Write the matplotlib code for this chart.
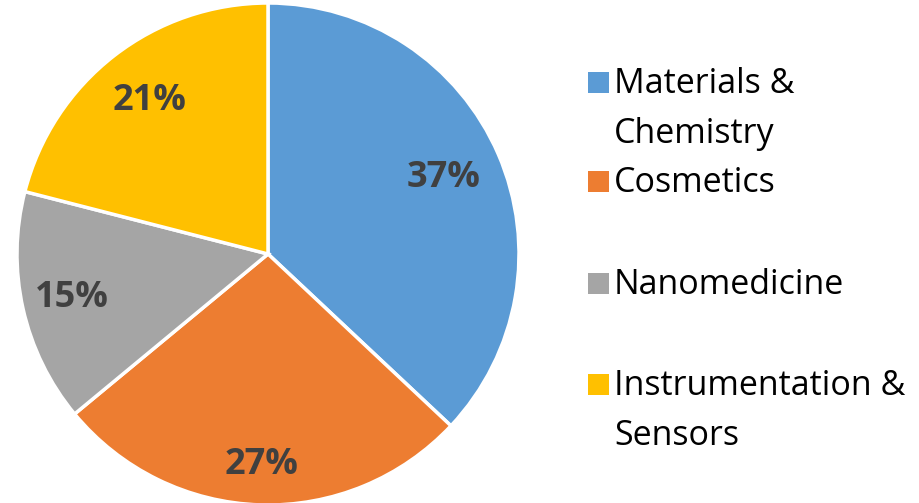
import numpy as np
import matplotlib
matplotlib.use("Agg")
import matplotlib.pyplot as plt
from matplotlib.patches import Rectangle

categories = ["Materials &\nChemistry", "Cosmetics", "Nanomedicine", "Instrumentation &\nSensors"]
values = [37, 27, 15, 21]
colors = ["#5B9BD5", "#ED7D31", "#A5A5A5", "#FFC000"]

W, H = 919, 503
fig = plt.figure(figsize=(W / 100, H / 100), dpi=100)
cx, cy, r = 268, 254, 251
ax = fig.add_axes([(cx - r) / W, 1 - (cy + r) / H, 2 * r / W, 2 * r / H])
wedges, texts, autotexts = ax.pie(
    values, colors=colors, startangle=90, counterclock=False,
    autopct="%1.0f%%", pctdistance=0.76,
    wedgeprops=dict(edgecolor="white", linewidth=2.5),
    textprops=dict(fontsize=26, fontweight="bold", color="#404040", family="Open Sans"),
)
ax.set_xlim(-1, 1)
ax.set_ylim(-1, 1)
ax.set_aspect("equal")

dists = [0.76, 0.84, 0.80, 0.77]
for w, t, d in zip(wedges, autotexts, dists):
    ang = np.deg2rad((w.theta1 + w.theta2) / 2)
    t.set_position((d * np.cos(ang), d * np.sin(ang)))
    t.set_ha("center")
    t.set_va("center")

# Legend drawn manually
baselines = [93, 192, 294, 395]
line_gap = 50
for lab, col, b in zip(categories, colors, baselines):
    fig.patches.append(Rectangle((588 / W, 1 - b / H), 21 / W, 21 / H,
                                 transform=fig.transFigure, facecolor=col,
                                 edgecolor="none"))
    for i, line in enumerate(lab.split("\n")):
        fig.text(614 / W, 1 - (b + i * line_gap) / H, line, fontsize=24.5,
                 family="Open Sans", color="black", va="baseline", ha="left")

fig.savefig("out.png", dpi=100)
